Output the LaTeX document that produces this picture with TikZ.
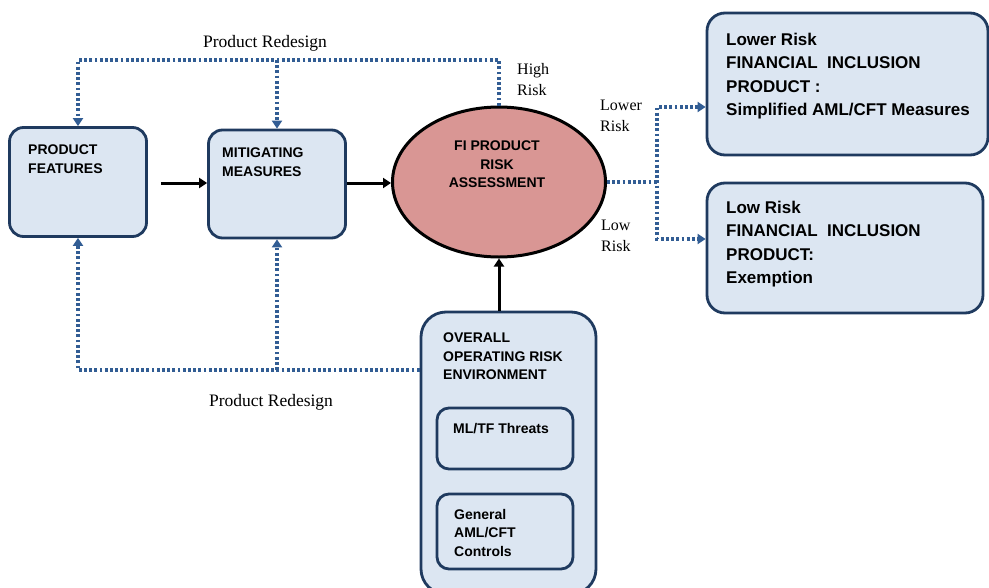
\documentclass[tikz,border=0pt]{standalone}
\usepackage{fontspec}
\setmainfont{Liberation Serif}
\setsansfont{Liberation Sans}
\usetikzlibrary{arrows.meta,shapes.geometric,calc}
\definecolor{boxfill}{RGB}{220,230,242}
\definecolor{boxdraw}{RGB}{31,58,95}
\definecolor{dotblue}{RGB}{50,93,148}
\definecolor{ellfill}{RGB}{217,150,148}
\begin{document}
\begin{tikzpicture}[x=1pt,y=-1pt,
  box/.style={draw=boxdraw, fill=boxfill, line width=2.8pt, rounded corners=14pt, inner sep=0pt},
  btext/.style={anchor=north west, font=\sffamily\bfseries\fontsize{14}{18.5}\selectfont, align=left, inner sep=0pt},
  rtext/.style={anchor=north west, font=\sffamily\bfseries\fontsize{17}{23.3}\selectfont, align=left, inner sep=0pt},
  lab/.style={anchor=north west, font=\fontsize{16}{21}\selectfont, align=left, inner sep=0pt},
  rdlab/.style={anchor=base, font=\fontsize{17.5}{21}\selectfont, inner sep=0pt},
  dotline/.style={dotblue, line width=3.6pt, dash pattern=on 2.8pt off 2.4pt},
  dtip/.tip={Triangle[width=10pt,length=8pt]},
  dotarrow/.style={dotline, -dtip},
  dotboth/.style={dotline, dtip-dtip},
  solidarrow/.style={black, line width=3pt, -{Triangle[width=10pt,length=8pt]}}
]
\useasboundingbox (0,0) rectangle (989,587);

% boxes
\node[box, minimum width=137pt, minimum height=109pt] (pf) at (78,182) {};
\node[box, minimum width=137pt, minimum height=108pt] (mm) at (277,184) {};
\node[ellipse, draw=black, fill=ellfill, line width=3pt, minimum width=213pt, minimum height=150pt, inner sep=0pt] (fi) at (499,182) {};
\node[box, rounded corners=18pt, minimum width=281pt, minimum height=142pt] (lo) at (847.5,84) {};
\node[box, rounded corners=18pt, minimum width=276pt, minimum height=130pt] (lw) at (845,248) {};
\node[box, rounded corners=25pt, minimum width=175pt, minimum height=282pt] (ov) at (508.5,453) {};
\node[box, rounded corners=12pt, minimum width=136pt, minimum height=61pt] (ml) at (505,438.5) {};
\node[box, rounded corners=12pt, minimum width=136pt, minimum height=75pt] (gc) at (505,531.5) {};

% texts
\node[btext] (tpf) at (28,145) {PRODUCT\\FEATURES};
\node[btext] (tmm) at (222,148) {MITIGATING\\MEASURES};
\node[btext, anchor=north, align=center] (tfi) at (497,141) {FI PRODUCT\\RISK\\ASSESSMENT};
\node[btext] (tov) at (443,333) {OVERALL\\OPERATING RISK\\ENVIRONMENT};
\node[btext] (tml) at (453,423) {ML/TF Threats};
\node[btext] (tgc) at (454,509) {General\\AML/CFT\\Controls};
\node[rtext] (tlo) at (726,33) {Lower Risk\\FINANCIAL\ \ INCLUSION\\PRODUCT :\\Simplified AML/CFT Measures};
\node[rtext] (tlw) at (726,201) {Low Risk\\FINANCIAL\ \ INCLUSION\\PRODUCT:\\Exemption};

% labels
\node[rdlab] (rd1) at (265,47) {Product Redesign};
\node[rdlab] (rd2) at (271,406) {Product Redesign};
\node[lab] (hr) at (517,63) {High\\Risk};
\node[lab] (lr) at (600,100) {Lower\\Risk};
\node[lab] (lwr) at (601,220) {Low\\Risk};

% solid arrows
\coordinate (ay) at (0,183);
\draw[solidarrow] ($(pf.east |- ay)+(13,0)$) -- (mm.west |- ay);
\draw[solidarrow] (mm.east |- ay) -- (fi.west |- ay);
\draw[solidarrow] (fi.south |- ov.north) -- (fi.south);

% dotted connectors
\coordinate (topy) at (0,60);
\coordinate (boty) at (0,370);
\coordinate (split) at (657,0);
\coordinate (ya) at (0,107);
\coordinate (yb) at (0,239);
\draw[dotarrow] (fi.north) |- (topy -| pf.north) -- (pf.north);
\draw[dotarrow] (topy -| mm.north) -- (mm.north);
\draw[dotarrow] (boty -| ov.west) -| (pf.south);
\draw[dotarrow] (boty -| mm.south) -- (mm.south);
\draw[dotline] (fi.east) -- (fi.east -| split);
\draw[dotboth] (lo.west |- ya) -- (split |- ya) -- (split |- yb) -- (lw.west |- yb);
\end{tikzpicture}
\end{document}
